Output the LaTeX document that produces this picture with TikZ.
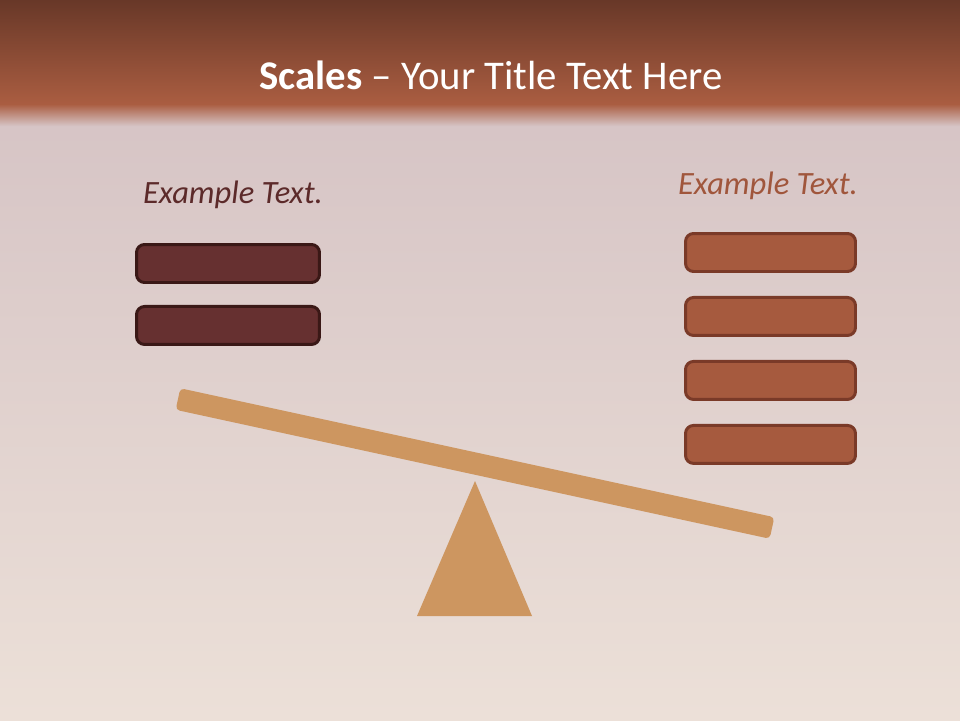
\documentclass[tikz,border=0pt]{standalone}
\usepackage{fontspec}
\setmainfont{Carlito}
\usetikzlibrary{positioning}

\definecolor{barTop}{RGB}{104,56,40}
\definecolor{barBottom}{RGB}{170,93,65}
\definecolor{bgTop}{RGB}{214,196,197}
\definecolor{bgBottom}{RGB}{236,224,216}
\definecolor{leftFill}{RGB}{102,48,48}
\definecolor{leftEdge}{RGB}{58,24,22}
\definecolor{rightFill}{RGB}{166,90,62}
\definecolor{rightEdge}{RGB}{122,58,40}
\definecolor{beamColor}{RGB}{205,150,96}
\definecolor{leftText}{RGB}{92,42,42}
\definecolor{rightText}{RGB}{160,86,60}

\begin{document}
\begin{tikzpicture}[
  x=0.02cm, y=-0.02cm,
  line join=round,
  title/.style={text=white, font=\fontsize{23.2}{28}\selectfont},
  caption/.style={font=\itshape\fontsize{18.5}{21}\selectfont},
  leftbox/.style={draw=leftEdge, fill=leftFill, line width=1.7pt, rounded corners=0.16cm,
    minimum width=3.66cm, minimum height=0.76cm},
  rightbox/.style={draw=rightEdge, fill=rightFill, line width=1.7pt, rounded corners=0.16cm,
    minimum width=3.40cm, minimum height=0.76cm},
  beam/.style={fill=beamColor, rounded corners=0.08cm, minimum width=12.16cm,
    minimum height=0.44cm, inner sep=0pt}
]

\useasboundingbox (0,0) rectangle (960,720);

% Background and title bar.
\shade[top color=bgTop, bottom color=bgBottom] (0,108) rectangle (960,720);
\shade[top color=barTop, bottom color=barBottom] (0,0) rectangle (960,104);
\shade[top color=barBottom, bottom color=bgTop] (0,104) rectangle (960,126);
\node[title] (titleText) at (491,75) {\textbf{Scales} -- Your Title Text Here};

% Left pan.
\node[caption, text=leftText] (leftCaption) at (233,195) {Example Text.};
\node[leftbox] (leftA) at (228,263.5) {};
\node[leftbox, below=0.42cm of leftA] (leftB) {};

% Right pan.
\node[caption, text=rightText] (rightCaption) at (768,186) {Example Text.};
\node[rightbox] (rightA) at (770.5,252.5) {};
\node[rightbox, below=0.46cm of rightA] (rightB) {};
\node[rightbox, below=0.46cm of rightB] (rightC) {};
\node[rightbox, below=0.46cm of rightC] (rightD) {};

% Beam and pivot.
\fill[beamColor] (475,481) -- (532,616) -- (417,616) -- cycle;
\node[beam, rotate=-12.25] (beamBar) at (475,463.5) {};

\end{tikzpicture}
\end{document}
